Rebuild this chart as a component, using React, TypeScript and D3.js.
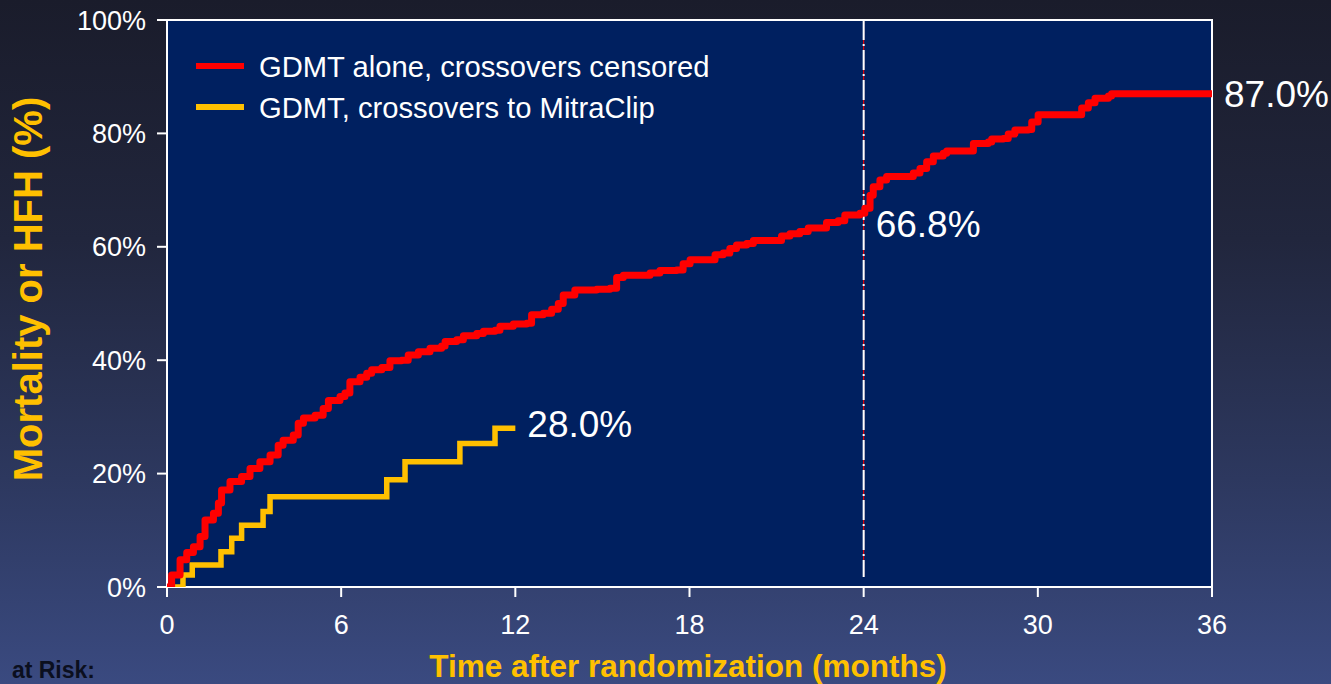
import React from 'react';
import * as d3 from 'd3';

// ---------- data ----------
const xTicks = [0, 6, 12, 18, 24, 30, 36];
const yTicks = [0, 20, 40, 60, 80, 100];

const seriesNames = ['GDMT alone, crossovers censored', 'GDMT, crossovers to MitraClip'];

// GDMT alone, crossovers censored (months, cumulative %)
const redTime = [
  0, 0.16, 0.45, 0.68, 0.91, 1.14, 1.31, 1.6, 1.77, 1.88,
  2.17, 2.57, 2.86, 3.2, 3.55, 3.83, 4.0, 4.35, 4.52, 4.7,
  5.1, 5.38, 5.56, 5.96, 6.13, 6.3, 6.65, 6.88, 7.05, 7.4,
  7.68, 8.08, 8.31, 8.66, 9.06, 9.46, 9.58, 9.98, 10.21, 10.67,
  10.9, 11.3, 11.47, 11.93, 12.39, 12.56, 12.96, 13.25, 13.48, 13.65,
  14.05, 14.8, 15.26, 15.49, 15.72, 16.64, 16.98, 17.56, 17.78, 18.02,
  18.88, 19.16, 19.39, 19.62, 19.97, 20.2, 21.17, 21.46, 21.8, 22.09,
  22.72, 23.12, 23.35, 23.87, 24.04, 24.22, 24.33, 24.56, 24.79, 25.71,
  25.94, 26.17, 26.4, 26.74, 26.86, 27.78, 28.29, 28.41, 28.81, 28.98,
  29.21, 29.67, 29.79, 30.01, 31.51, 31.74, 31.97, 32.43, 32.54, 36,
];
const redPct = [
  0, 2.1, 4.8, 6.1, 7.1, 8.9, 11.8, 13.0, 14.8, 17.1,
  18.6, 19.5, 20.9, 22.1, 23.3, 25.0, 25.9, 26.8, 28.9, 29.8,
  30.3, 31.5, 32.9, 33.6, 34.2, 36.2, 37.0, 37.7, 38.3, 38.7,
  39.9, 40.0, 40.9, 41.5, 42.1, 42.5, 43.3, 43.6, 44.3, 44.7,
  45.1, 45.3, 46.0, 46.4, 46.5, 48.0, 48.3, 49.0, 50.0, 51.5,
  52.4, 52.5, 52.7, 54.6, 55.0, 55.4, 55.8, 55.9, 57.0, 57.7,
  58.6, 58.9, 59.7, 60.3, 60.6, 61.1, 61.9, 62.3, 62.7, 63.3,
  64.3, 64.6, 65.6, 65.9, 66.8, 69.1, 70.6, 71.8, 72.4, 73.0,
  73.8, 75.0, 76.0, 76.5, 76.9, 78.2, 78.5, 79.0, 79.1, 79.9,
  80.6, 80.7, 82.0, 83.3, 84.5, 85.4, 86.2, 86.6, 87.0, 87.0,
];

// GDMT, crossovers to MitraClip
const yellowTime = [0, 0.55, 0.87, 1.86, 2.23, 2.57, 3.31, 3.55, 7.57, 8.2, 10.09, 11.3, 12.0];
const yellowPct = [0, 2.1, 3.9, 6.2, 8.6, 10.9, 13.3, 15.9, 18.9, 22.1, 25.3, 28.0, 28.0];

const annoTime = [36, 24, 12];
const annoPct = [87.0, 66.8, 28.0];
const annoText = ['87.0%', '66.8%', '28.0%'];

// ---------- layout ----------
const W = 1331;
const H = 684;
const L = 167, R = 1212, T = 20, B = 587;
const FONT = '"Liberation Sans", Arial, Helvetica, sans-serif';
const RED = '#FF0000';
const YEL = '#FFC000';
const annoDy = [13, 29, 9];

export default function App() {
  const x = d3.scaleLinear().domain([0, 36]).range([L, R]);
  const y = d3.scaleLinear().domain([0, 100]).range([B, T]);

  const line = d3
    .line<[number, number]>()
    .x((d) => x(d[0]))
    .y((d) => y(d[1]))
    .curve(d3.curveStepAfter);

  const redData = redTime.map((t, i) => [t, redPct[i]] as [number, number]);
  const yelData = yellowTime.map((t, i) => [t, yellowPct[i]] as [number, number]);

  return (
    <svg
      width={W}
      height={H}
      style={{ position: 'absolute', left: 0, top: 0, display: 'block' }}
      fontFamily={FONT}
    >
      <defs>
        <linearGradient id="bg" x1="0" y1="0" x2="0" y2="1">
          <stop offset="0%" stopColor="#1a1c2b" />
          <stop offset="35%" stopColor="#21263d" />
          <stop offset="70%" stopColor="#2d385f" />
          <stop offset="100%" stopColor="#3a4a80" />
        </linearGradient>
        <clipPath id="plotclip">
          <rect x={L} y={T - 5} width={R - L} height={B - T + 5} />
        </clipPath>
      </defs>
      <rect x={0} y={0} width={W} height={H} fill="url(#bg)" />
      <rect x={L} y={T} width={R - L} height={B - T} fill="#002060" />

      {/* vertical reference at 24 months */}
      <line x1={x(24)} x2={x(24)} y1={T} y2={B - 10} stroke={RED} strokeWidth={1} />
      <line
        x1={x(24)}
        x2={x(24)}
        y1={T}
        y2={B - 10}
        stroke="#ffffff"
        strokeWidth={2}
        strokeDasharray="20,4,2,4"
      />

      {/* frame */}
      <rect x={L} y={T} width={R - L} height={B - T} fill="none" stroke="#ffffff" strokeWidth={2} />

      {/* y ticks */}
      {yTicks.map((v) => (
        <g key={'y' + v}>
          <line x1={L - 10} x2={L} y1={y(v)} y2={y(v)} stroke="#fff" strokeWidth={2} />
          <text x={L - 21} y={y(v) + 9.5} fill="#fff" fontSize={27} textAnchor="end">
            {v + '%'}
          </text>
        </g>
      ))}

      {/* x ticks */}
      {xTicks.map((t) => (
        <g key={'x' + t}>
          <line x1={x(t)} x2={x(t)} y1={B} y2={B + 10} stroke="#fff" strokeWidth={2} />
          <text x={x(t)} y={634} fill="#fff" fontSize={27} textAnchor="middle">
            {t}
          </text>
        </g>
      ))}

      {/* curves */}
      <g clipPath="url(#plotclip)">
        <path d={line(yelData) || ''} fill="none" stroke={YEL} strokeWidth={5.5} strokeLinejoin="miter" />
        <path d={line(redData) || ''} fill="none" stroke={RED} strokeWidth={7} strokeLinejoin="round" />
      </g>

      {/* end labels */}
      {annoTime.map((t, i) => (
        <text key={'a' + i} x={x(t) + 12} y={y(annoPct[i]) + annoDy[i]} fill="#fff" fontSize={37}>
          {annoText[i]}
        </text>
      ))}

      {/* legend */}
      {seriesNames.map((name, i) => (
        <g key={'l' + i}>
          <line
            x1={196}
            x2={244}
            y1={66 + i * 41}
            y2={66 + i * 41}
            stroke={i === 0 ? RED : YEL}
            strokeWidth={6}
          />
          <text x={259} y={66 + i * 41 + 10.5} fill="#fff" fontSize={29.2}>
            {name}
          </text>
        </g>
      ))}

      {/* axis titles */}
      <text x={688} y={677} fill={YEL} fontSize={31.5} fontWeight="bold" textAnchor="middle">
        Time after randomization (months)
      </text>
      <text
        transform={`translate(42, 289) rotate(-90)`}
        fill={YEL}
        fontSize={40}
        fontWeight="bold"
        textAnchor="middle"
      >
        Mortality or HFH (%)
      </text>

      <text x={95} y={678} fill="#0b0f1e" fontSize={23} fontWeight="bold" textAnchor="end">
        at Risk:
      </text>
    </svg>
  );
}
